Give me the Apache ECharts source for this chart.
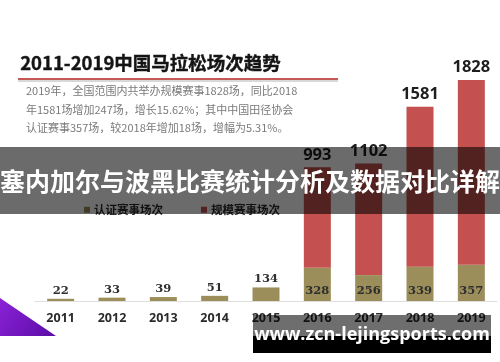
<!DOCTYPE html>
<html>
<head>
<meta charset="utf-8">
<script src="https://cdn.jsdelivr.net/npm/echarts@6/dist/echarts.min.js"></script>
<style>
html,body{margin:0;padding:0;background:#fff;}
#chart{width:500px;height:362px;}
</style>
</head>
<body>
<div id="chart"></div>
<script>
const years = ['2011','2012','2013','2014','2015','2016','2017','2018','2019'];
const certifiedEvents = [22, 33, 39, 51, 134, 328, 256, 339, 357];
const scaleEvents = [null, null, null, null, null, 993, 1102, 1581, 1828];
const seriesNames = ['认证赛事场次', '规模赛事场次'];
const titleText = '2011-2019中国马拉松场次趋势';
const noteLines = [
  '2019年，全国范围内共举办规模赛事1828场，同比2018',
  '年1581场增加247场，增长15.62%；其中中国田径协会',
  '认证赛事357场，较2018年增加18场，增幅为5.31%。'
];
const bannerText = '塞内加尔与波黑比赛统计分析及数据对比详解';
const siteText = 'www.zcn-lejingsports.com';

const OLIVE = '#9b8e5a';
const RED = '#c4514f';
const CJK = '"Noto Sans CJK SC", "Noto Sans", sans-serif';
const SERIF = '"DejaVu Serif", "Liberation Serif", serif';

const chart = echarts.init(document.getElementById('chart'), null, {renderer: 'canvas'});

const certData = certifiedEvents.map((v, i) => ({
  value: v,
  label: scaleEvents[i] == null
    ? {position: 'top', distance: 2}
    : {position: 'insideBottom', distance: 4}
}));

const option = {
  animation: false,
  backgroundColor: '#ffffff',
  grid: {left: 35, right: 3, top: 48, bottom: 61, containLabel: false},
  legend: {
    left: 79, top: 199,
    itemWidth: 6, itemHeight: 6, itemGap: 38, icon: 'rect',
    data: seriesNames,
    textStyle: {fontFamily: CJK, fontSize: 11.5, fontWeight: 'bold', color: '#2a2a2a', padding: [0,0,0,-1]}
  },
  xAxis: {
    type: 'category',
    data: years,
    axisLine: {show: true, lineStyle: {color: '#dedede', width: 1}},
    axisTick: {show: false},
    axisLabel: {fontFamily: '"Open Sans", sans-serif', fontSize: 12.5, fontWeight: 'bold', color: '#2b2b2b', margin: 11}
  },
  yAxis: {
    type: 'value', min: 0, max: 2500, show: false,
    splitLine: {show: false}
  },
  series: [
    {
      name: seriesNames[0], type: 'bar', stack: 'total', barWidth: 27,
      itemStyle: {color: OLIVE},
      label: {show: true, fontFamily: SERIF, fontWeight: 'bold', fontSize: 11.5, color: '#2e2e2e'},
      data: certData
    },
    {
      name: seriesNames[1], type: 'bar', stack: 'total', barWidth: 27,
      itemStyle: {color: RED},
      label: {show: true, position: 'top', distance: 4, fontFamily: '"Open Sans", sans-serif', fontWeight: 'bold', fontSize: 16.5, color: '#1e1e1e'},
      data: scaleEvents.map(v => v == null ? '-' : v)
    }
  ],
  graphic: [
    {type: 'text', left: 20, top: 54, z: 50,
      style: {text: titleText, font: 'bold 18.5px ' + CJK, fill: '#141414', stroke: '#141414', lineWidth: 0.4}},
    {type: 'rect', shape: {x: 18, y: 80, width: 320, height: 2}, z: 50,
      style: {fill: '#d8d8d8'}},
    {type: 'rect', shape: {x: 18, y: 78, width: 320, height: 2}, z: 51,
      style: {fill: '#c45a55'}},
    {type: 'text', left: 26, top: 85, z: 50,
      style: {text: noteLines[0], font: '11px ' + CJK, fill: '#7a7a7a'}},
    {type: 'text', left: 26, top: 104, z: 50,
      style: {text: noteLines[1], font: '11px ' + CJK, fill: '#7a7a7a'}},
    {type: 'text', left: 26, top: 122, z: 50,
      style: {text: noteLines[2], font: '11px ' + CJK, fill: '#7a7a7a'}},
    {type: 'rect', shape: {x: 0, y: 147, width: 500, height: 67}, z: 100,
      style: {fill: 'rgba(0,0,0,0.58)'}},
    {type: 'text', x: 250, y: 181, z: 101,
      style: {text: bannerText, font: 'bold 25px ' + CJK, fill: '#ffffff', align: 'center', verticalAlign: 'middle'}},
    {type: 'polygon', shape: {points: [[0, 298], [0, 336], [56, 336]]}, z: 100,
      style: {fill: new echarts.graphic.LinearGradient(0, 0, 1, 1, [
        {offset: 0, color: '#8a22d6'}, {offset: 1, color: '#5a0ca6'}])}},
    {type: 'rect', shape: {x: 253, y: 315, width: 238, height: 21}, z: 100,
      style: {fill: 'rgba(0,0,0,0.57)'}},
    {type: 'rect', shape: {x: 253, y: 336, width: 238, height: 17}, z: 100,
      style: {fill: '#000000'}},
    {type: 'text', x: 372, y: 335, z: 101,
      style: {text: siteText, font: 'bold 18px "Open Sans", sans-serif', fill: '#ffffff', align: 'center', verticalAlign: 'middle'}}
  ]
};
chart.setOption(option);
</script>
</body>
</html>
